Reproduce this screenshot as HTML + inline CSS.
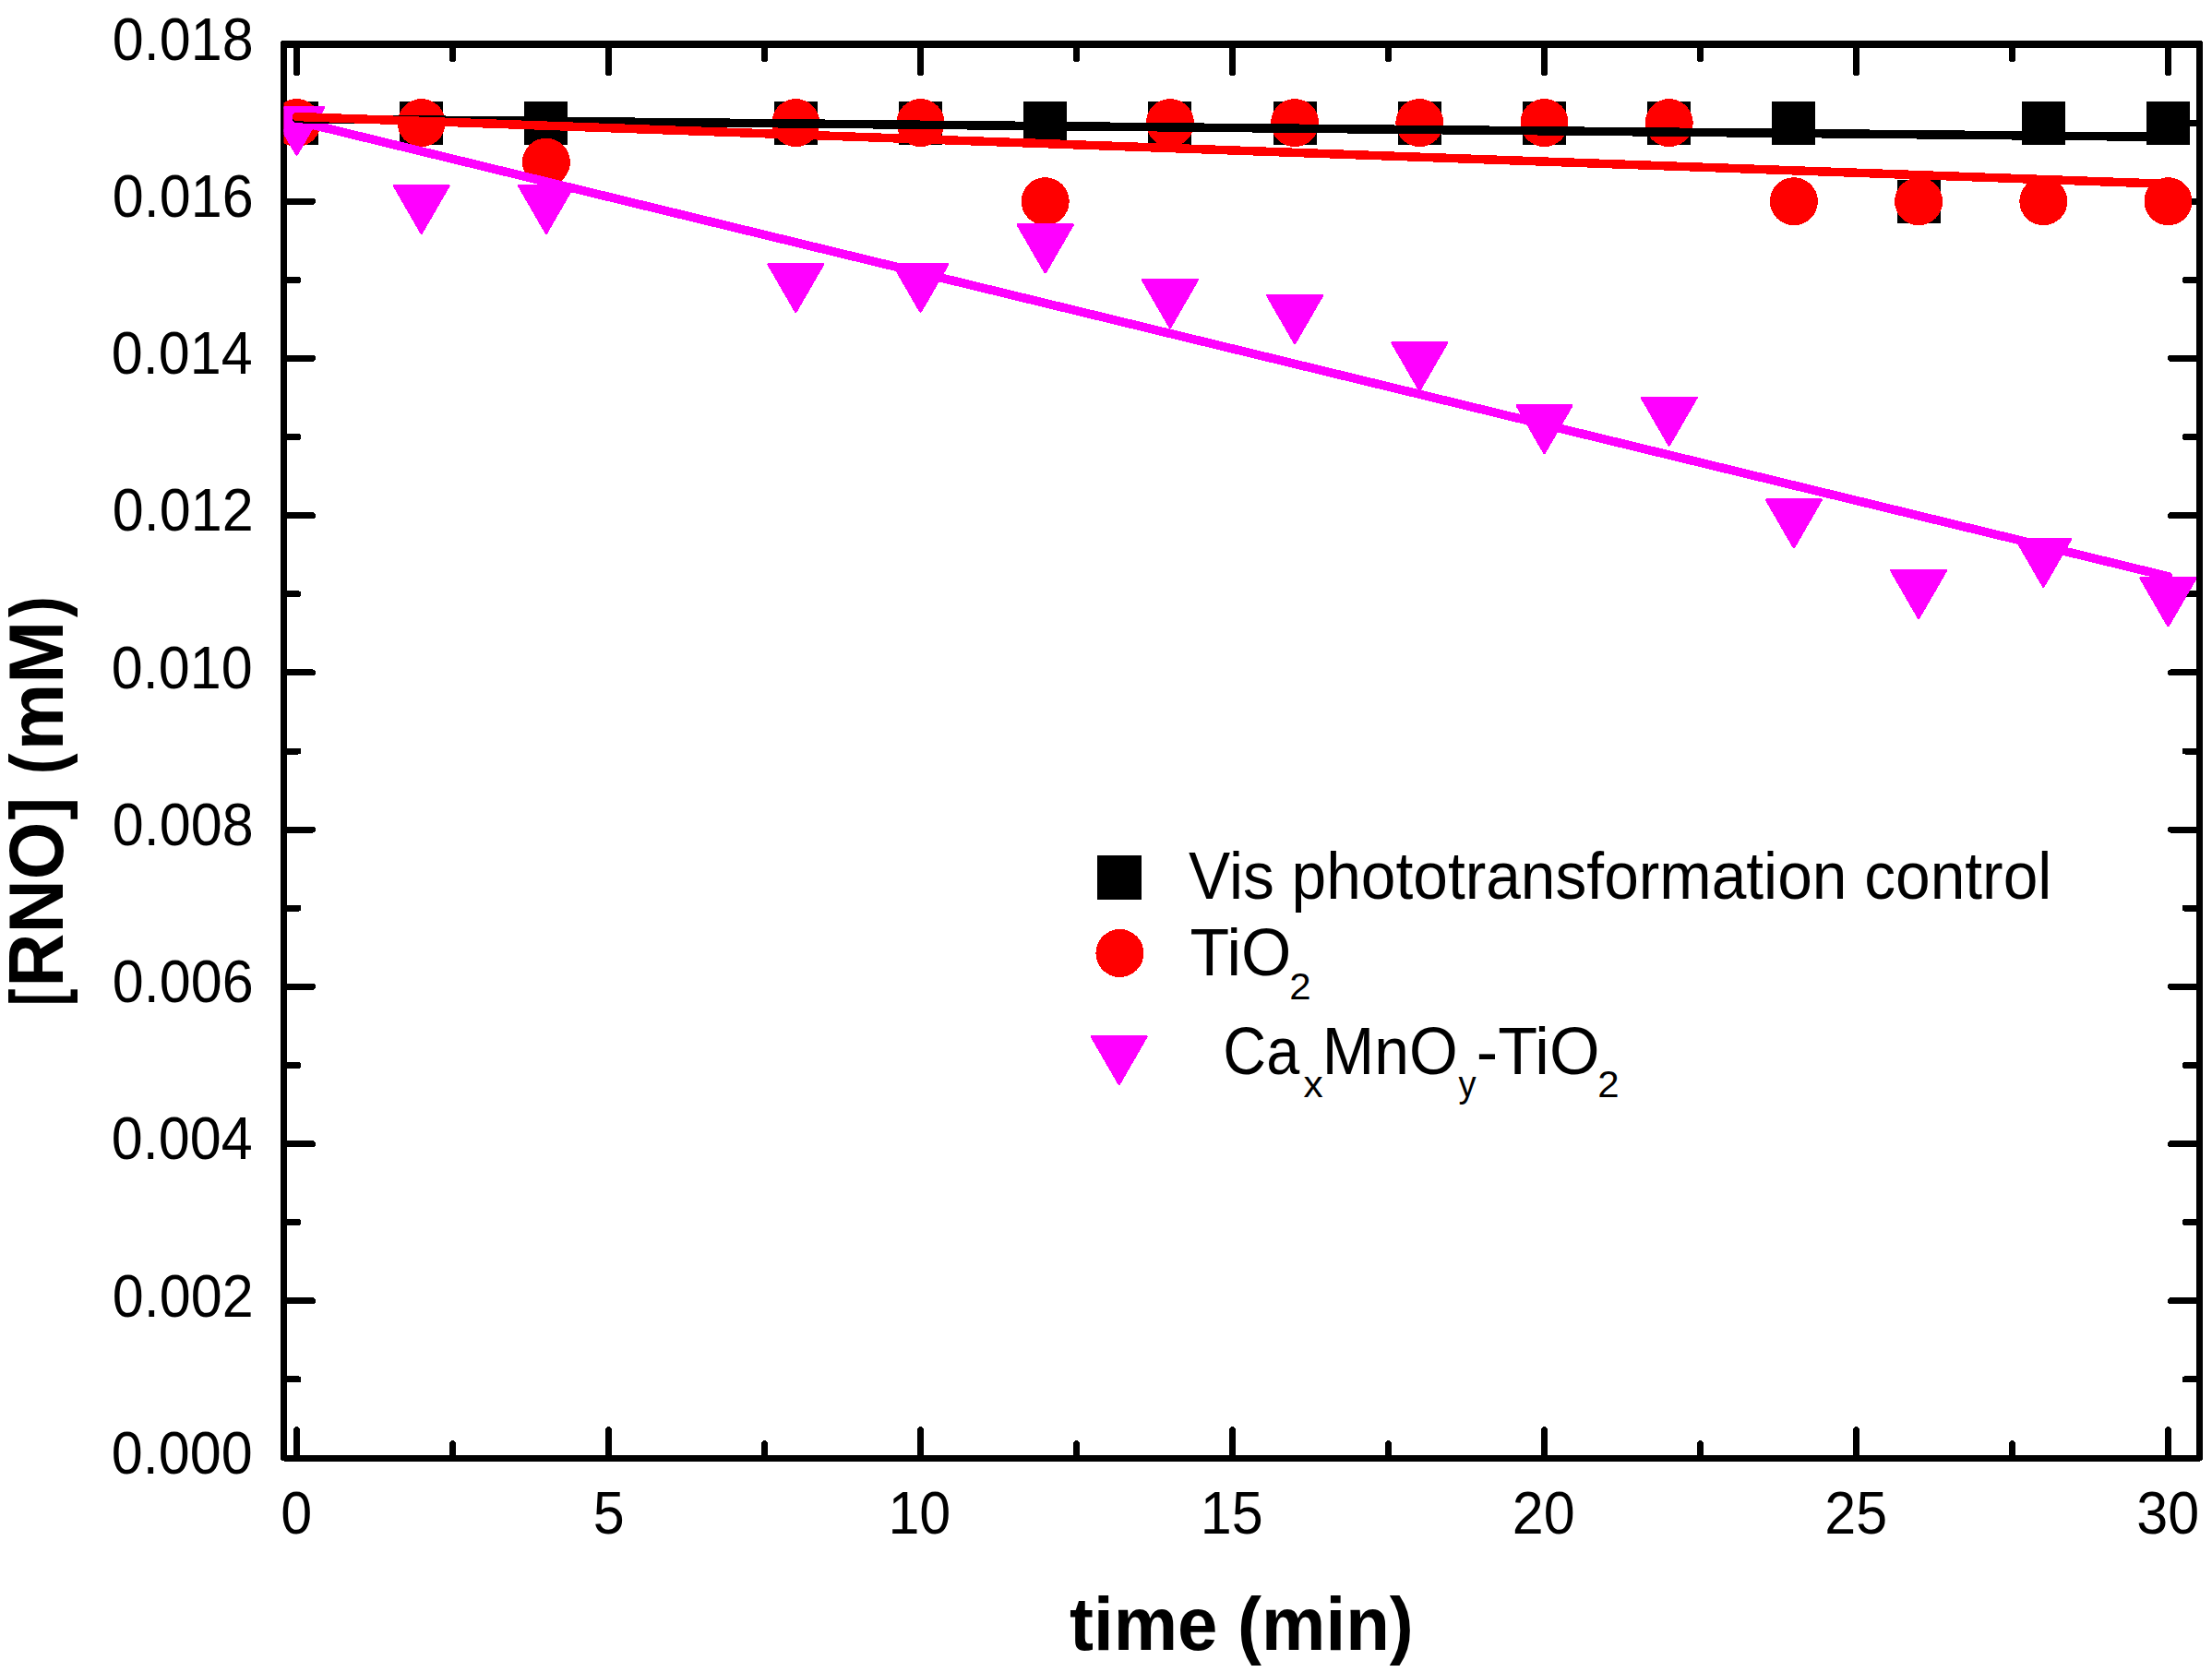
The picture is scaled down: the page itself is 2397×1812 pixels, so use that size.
<!DOCTYPE html>
<html lang="en"><head><meta charset="utf-8"><title>[RNO] vs time</title>
<style>html,body{margin:0;padding:0;background:#fff}body{width:2397px;height:1812px;overflow:hidden}svg{display:block}text{font-family:"Liberation Sans",Arial,Helvetica,sans-serif;fill:#000}</style></head><body>
<svg width="2397" height="1812" viewBox="0 0 2397 1812" shape-rendering="crispEdges">
<rect x="0" y="0" width="2397" height="1812" fill="#fff"/>
<defs><clipPath id="plot"><rect x="307.5" y="48.0" width="2072.5" height="1532.0"/></clipPath></defs>
<g fill="none" stroke="#000" stroke-width="7.0" stroke-linecap="round" stroke-linejoin="round">
<path d="M307.5 48.0V1580.0H2383.5V48.0" />
<path d="M307.5 48.0H2383.5" stroke-width="8"/>
<path d="M321.5 49.0v29.5M321.5 1579.0v-29.5M490.5 49.0v14.5M490.5 1579.0v-14.5M659.5 49.0v29.5M659.5 1579.0v-29.5M828.5 49.0v14.5M828.5 1579.0v-14.5M997.5 49.0v29.5M997.5 1579.0v-29.5M1166.5 49.0v14.5M1166.5 1579.0v-14.5M1335.5 49.0v29.5M1335.5 1579.0v-29.5M1504.5 49.0v14.5M1504.5 1579.0v-14.5M1673.5 49.0v29.5M1673.5 1579.0v-29.5M1842.5 49.0v14.5M1842.5 1579.0v-14.5M2011.5 49.0v29.5M2011.5 1579.0v-29.5M2180.5 49.0v14.5M2180.5 1579.0v-14.5M2349.5 49.0v29.5M2349.5 1579.0v-29.5M308.5 1494.9h14.5M2382.5 1494.9h-14.5M308.5 1409.8h30.0M2382.5 1409.8h-30.0M308.5 1324.7h14.5M2382.5 1324.7h-14.5M308.5 1239.6h30.0M2382.5 1239.6h-30.0M308.5 1154.4h14.5M2382.5 1154.4h-14.5M308.5 1069.3h30.0M2382.5 1069.3h-30.0M308.5 984.2h14.5M2382.5 984.2h-14.5M308.5 899.1h30.0M2382.5 899.1h-30.0M308.5 814.0h14.5M2382.5 814.0h-14.5M308.5 728.9h30.0M2382.5 728.9h-30.0M308.5 643.8h14.5M2382.5 643.8h-14.5M308.5 558.7h30.0M2382.5 558.7h-30.0M308.5 473.6h14.5M2382.5 473.6h-14.5M308.5 388.4h30.0M2382.5 388.4h-30.0M308.5 303.3h14.5M2382.5 303.3h-14.5M308.5 218.2h30.0M2382.5 218.2h-30.0M308.5 133.1h14.5M2382.5 133.1h-14.5"/>
</g>
<text transform="translate(120.86 1596.80) scale(0.9340 1)" font-size="65.4">0.000</text>
<text transform="translate(121.82 1426.58) scale(0.9340 1)" font-size="65.4">0.002</text>
<text transform="translate(120.86 1256.36) scale(0.9340 1)" font-size="65.4">0.004</text>
<text transform="translate(121.82 1086.13) scale(0.9340 1)" font-size="65.4">0.006</text>
<text transform="translate(121.82 915.91) scale(0.9340 1)" font-size="65.4">0.008</text>
<text transform="translate(120.86 745.69) scale(0.9340 1)" font-size="65.4">0.010</text>
<text transform="translate(121.82 575.47) scale(0.9340 1)" font-size="65.4">0.012</text>
<text transform="translate(120.86 405.25) scale(0.9340 1)" font-size="65.4">0.014</text>
<text transform="translate(121.82 235.02) scale(0.9340 1)" font-size="65.4">0.016</text>
<text transform="translate(121.82 64.80) scale(0.9340 1)" font-size="65.4">0.018</text>
<text transform="translate(304.32 1661.60) scale(0.9340 1)" font-size="65.4">0</text>
<text transform="translate(642.80 1661.60) scale(0.9340 1)" font-size="65.4">5</text>
<text transform="translate(962.38 1661.60) scale(0.9340 1)" font-size="65.4">10</text>
<text transform="translate(1300.86 1661.60) scale(0.9340 1)" font-size="65.4">15</text>
<text transform="translate(1638.86 1661.60) scale(0.9340 1)" font-size="65.4">20</text>
<text transform="translate(1977.33 1661.60) scale(0.9340 1)" font-size="65.4">25</text>
<text transform="translate(2315.33 1661.60) scale(0.9340 1)" font-size="65.4">30</text>
<g clip-path="url(#plot)">
<g fill="#000">
<rect x="298.0" y="109.6" width="47" height="47"/>
<rect x="433.2" y="109.6" width="47" height="47"/>
<rect x="568.4" y="109.6" width="47" height="47"/>
<rect x="838.8" y="109.6" width="47" height="47"/>
<rect x="974.0" y="109.6" width="47" height="47"/>
<rect x="1109.2" y="109.6" width="47" height="47"/>
<rect x="1244.4" y="109.6" width="47" height="47"/>
<rect x="1379.6" y="109.6" width="47" height="47"/>
<rect x="1514.8" y="109.6" width="47" height="47"/>
<rect x="1650.0" y="109.6" width="47" height="47"/>
<rect x="1785.2" y="109.6" width="47" height="47"/>
<rect x="1920.4" y="109.6" width="47" height="47"/>
<rect x="2055.6" y="194.7" width="47" height="47"/>
<rect x="2190.8" y="109.6" width="47" height="47"/>
<rect x="2326.0" y="109.6" width="47" height="47"/>
</g><g fill="#f00">
<circle cx="321.5" cy="133.1" r="26"/>
<circle cx="456.7" cy="133.1" r="26"/>
<circle cx="591.9" cy="175.7" r="26"/>
<circle cx="862.3" cy="133.1" r="26"/>
<circle cx="997.5" cy="133.1" r="26"/>
<circle cx="1132.7" cy="218.2" r="26"/>
<circle cx="1267.9" cy="133.1" r="26"/>
<circle cx="1403.1" cy="133.1" r="26"/>
<circle cx="1538.3" cy="133.1" r="26"/>
<circle cx="1673.5" cy="133.1" r="26"/>
<circle cx="1808.7" cy="133.1" r="26"/>
<circle cx="1943.9" cy="218.2" r="26"/>
<circle cx="2079.1" cy="218.2" r="26"/>
<circle cx="2214.3" cy="218.2" r="26"/>
<circle cx="2349.5" cy="218.2" r="26"/>
</g><g fill="#f0f" stroke="#f0f" stroke-width="3" stroke-linejoin="round">
<path d="M292.0 116.1h59l-29.5 51.1z"/>
<path d="M427.2 201.2h59l-29.5 51.1z"/>
<path d="M562.4 201.2h59l-29.5 51.1z"/>
<path d="M832.8 286.3h59l-29.5 51.1z"/>
<path d="M968.0 286.3h59l-29.5 51.1z"/>
<path d="M1103.2 243.8h59l-29.5 51.1z"/>
<path d="M1238.4 303.4h59l-29.5 51.1z"/>
<path d="M1373.6 320.4h59l-29.5 51.1z"/>
<path d="M1508.8 371.4h59l-29.5 51.1z"/>
<path d="M1644.0 439.5h59l-29.5 51.1z"/>
<path d="M1779.2 431.0h59l-29.5 51.1z"/>
<path d="M1914.4 541.7h59l-29.5 51.1z"/>
<path d="M2049.6 618.3h59l-29.5 51.1z"/>
<path d="M2184.8 584.2h59l-29.5 51.1z"/>
<path d="M2320.0 626.8h59l-29.5 51.1z"/>
</g>
<g fill="none" stroke-width="9.5" stroke-linecap="round">
<path stroke="#f0f" d="M321.5 131.1L2349.5 624.7"/>
<path stroke="#000" d="M321.5 128.7L2349.5 148.4"/>
<path stroke="#f00" d="M321.5 126.5L2349.5 199.4"/>
</g></g>
<rect x="1189.3" y="927.2" width="47.5" height="47.5" fill="#000"/>
<circle cx="1213.4" cy="1033" r="26" fill="#f00"/>
<g fill="#f0f" stroke="#f0f" stroke-width="3" stroke-linejoin="round"><path d="M1183.2 1123.3h59l-29.5 51.1z"/></g>
<text transform="translate(1288.00 974.00) scale(0.9400 1)" font-size="72">Vis phototransformation control</text>
<text><tspan x="1289.41" y="1057.00" font-size="72" textLength="109.93" lengthAdjust="spacingAndGlyphs">TiO</tspan><tspan x="1397.23" y="1083.40" font-size="40.5" textLength="23.37" lengthAdjust="spacingAndGlyphs">2</tspan></text>
<text><tspan x="1325.36" y="1163.70" font-size="72" textLength="82.83" lengthAdjust="spacingAndGlyphs">Ca</tspan><tspan x="1412.40" y="1189.20" font-size="40.5" textLength="21.20" lengthAdjust="spacingAndGlyphs">x</tspan><tspan x="1432.70" y="1163.70" font-size="72" textLength="146.94" lengthAdjust="spacingAndGlyphs">MnO</tspan><tspan x="1580.50" y="1189.20" font-size="40.5" textLength="19.10" lengthAdjust="spacingAndGlyphs">y</tspan><tspan x="1599.81" y="1163.70" font-size="72" textLength="133.64" lengthAdjust="spacingAndGlyphs">-TiO</tspan><tspan x="1731.33" y="1189.20" font-size="40.5" textLength="23.37" lengthAdjust="spacingAndGlyphs">2</tspan></text>
<text transform="translate(1159.00 1788.00) scale(0.9516 1)" font-size="82" font-weight="bold">time (min)</text>
<text transform="translate(68 1100.0) rotate(-90)" font-weight="bold"><tspan x="10.23" y="-1.30" font-size="78.8" textLength="18.23" lengthAdjust="spacingAndGlyphs">[</tspan><tspan x="30.36" y="0.00" font-size="84" textLength="179.18" lengthAdjust="spacingAndGlyphs">RNO</tspan><tspan x="211.30" y="-1.30" font-size="78.8" textLength="24.63" lengthAdjust="spacingAndGlyphs">]</tspan><tspan font-size="40"> </tspan><tspan x="260.68" y="-1.30" font-size="78.8" textLength="22.88" lengthAdjust="spacingAndGlyphs">(</tspan><tspan x="286.81" y="0.00" font-size="84" textLength="140.31" lengthAdjust="spacingAndGlyphs">mM</tspan><tspan x="430.90" y="-1.30" font-size="78.8" textLength="22.88" lengthAdjust="spacingAndGlyphs">)</tspan></text>
</svg></body></html>
